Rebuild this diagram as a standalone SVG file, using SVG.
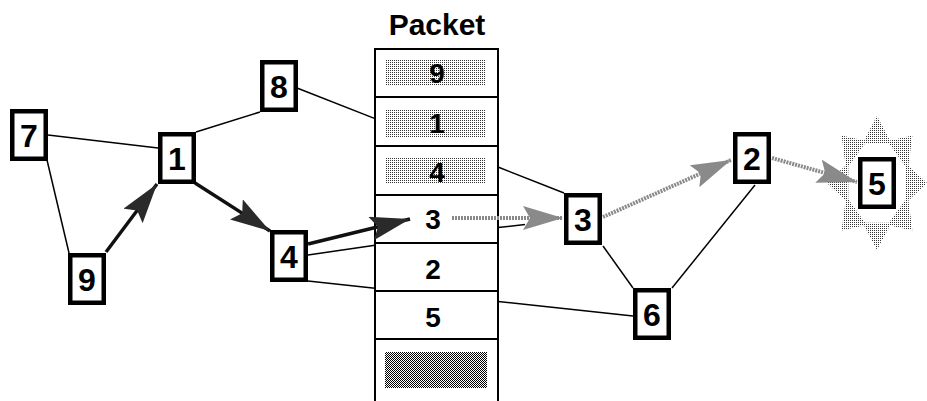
<svg xmlns="http://www.w3.org/2000/svg" width="927" height="401" viewBox="0 0 927 401">
<style>
.node rect{fill:#fff;stroke:#000;stroke-width:4.5}
.node text{font-family:"Liberation Sans",Arial,sans-serif;font-weight:bold;font-size:32px;text-anchor:middle;fill:#000}
.ptxt{font-family:"Liberation Sans",Arial,sans-serif;font-weight:bold;font-size:28px;text-anchor:middle;fill:#000}
.thin{stroke:#000;stroke-width:1.5;fill:none}
.dark{stroke:#111;stroke-width:3.5;fill:none;marker-end:url(#headDark)}
.gray{stroke:#8a8a8a;stroke-width:4;fill:none;stroke-dasharray:2 1;marker-end:url(#headGray)}
.cell{fill:#fff;stroke:#000;stroke-width:2}
</style>
<defs>
<pattern id="lightDots" width="2" height="2" patternUnits="userSpaceOnUse"><rect width="2" height="2" fill="#fff"/><rect width="1" height="1" fill="#333"/></pattern>
<pattern id="midDots" width="2" height="2" patternUnits="userSpaceOnUse"><rect width="2" height="2" fill="#fff"/><rect width="1" height="1" fill="#000"/><rect x="1" y="1" width="1" height="1" fill="#000"/></pattern>
<marker id="headDark" viewBox="0 0 40 24" refX="40" refY="12" markerWidth="40" markerHeight="24" markerUnits="userSpaceOnUse" orient="auto"><path d="M0,0 L40,12 L0,24 L7,12 Z" fill="#2a2a2a"/></marker>
<marker id="headGray" viewBox="0 0 40 24" refX="40" refY="12" markerWidth="40" markerHeight="24" markerUnits="userSpaceOnUse" orient="auto"><path d="M0,0 L40,12 L0,24 L7,12 Z" fill="#8a8a8a"/></marker>
</defs>
<rect width="927" height="401" fill="#fff"/>

<g id="packet">
<text x="437" y="35" class="ptxt" style="font-size:30px">Packet</text>
<rect class="cell" x="375" y="49" width="123" height="48"/>
<rect class="cell" x="375" y="97" width="123" height="49"/>
<rect class="cell" x="375" y="146" width="123" height="49"/>
<rect class="cell" x="375" y="195" width="123" height="48"/>
<rect class="cell" x="375" y="243" width="123" height="48"/>
<rect class="cell" x="375" y="291" width="123" height="48"/>
<rect class="cell" x="375" y="339" width="123" height="70"/>
<rect x="386" y="59" width="100" height="26" fill="url(#lightDots)"/>
<rect x="386" y="109" width="100" height="28" fill="url(#lightDots)"/>
<rect x="386" y="158" width="100" height="25" fill="url(#lightDots)"/>
<rect x="385" y="352" width="102" height="36" fill="url(#midDots)"/>
<text x="437" y="83" class="ptxt">9</text>
<text x="437" y="133" class="ptxt">1</text>
<text x="437" y="182" class="ptxt">4</text>
<text x="433" y="229" class="ptxt">3</text>
<text x="433" y="279" class="ptxt">2</text>
<text x="433" y="327" class="ptxt">5</text>
</g>

<g id="burst">
<polygon points="877,116 890,140.5 912.4,135.6 908.4,165.4 927,183 908.4,200.6 912.4,230.4 890,225.5 877,250 864,225.5 841.6,230.4 845.6,200.6 827,183 845.6,165.4 841.6,135.6 864,140.5" fill="url(#lightDots)"/>
<polygon points="888.9,143.3 905.6,166.5 905.6,199.5 888.9,222.7 865.1,222.7 848.4,199.5 848.4,166.5 865.1,143.3" fill="#fff"/>
</g>

<g id="connectors">
<line class="thin" x1="48" y1="135" x2="158" y2="148"/>
<line class="thin" x1="47" y1="160" x2="69" y2="253"/>
<line class="thin" x1="196" y1="132" x2="260" y2="112"/>
<line class="thin" x1="297" y1="88" x2="375" y2="118.6"/>
<line class="thin" x1="498" y1="167" x2="564" y2="193"/>
<line class="thin" x1="308" y1="255" x2="375" y2="245.3"/>
<line class="thin" x1="498" y1="227.5" x2="525" y2="224.5"/>
<line class="thin" x1="308" y1="281" x2="375" y2="288.2"/>
<line class="thin" x1="498" y1="301.5" x2="633" y2="316"/>
<line class="thin" x1="603" y1="246" x2="633" y2="288"/>
<line class="thin" x1="672" y1="288" x2="755" y2="185"/>
<line class="dark" x1="106" y1="252" x2="157" y2="184"/>
<line class="dark" x1="195" y1="183" x2="270" y2="231"/>
<line class="dark" x1="308" y1="244" x2="410" y2="219"/>
<line class="gray" x1="452" y1="218" x2="563" y2="218"/>
<line class="gray" x1="603" y1="217" x2="731" y2="160"/>
<line class="gray" x1="772" y1="158" x2="857" y2="182"/>
</g>

<g id="n7" class="node"><rect x="12.25" y="111.25" width="33.5" height="47.5"/><text x="29" y="147">7</text></g>
<g id="n1" class="node"><rect x="160.25" y="134.25" width="33.5" height="47.5"/><text x="177" y="170">1</text></g>
<g id="n8" class="node"><rect x="262.25" y="62.25" width="33.5" height="47.5"/><text x="279" y="98">8</text></g>
<g id="n9" class="node"><rect x="70.25" y="255.25" width="33.5" height="47.5"/><text x="87" y="291">9</text></g>
<g id="n4" class="node"><rect x="272.25" y="232.25" width="33.5" height="47.5"/><text x="289" y="268">4</text></g>
<g id="n3" class="node"><rect x="566.25" y="195.25" width="33.5" height="47.5"/><text x="583" y="231">3</text></g>
<g id="n2" class="node"><rect x="735.25" y="134.25" width="33.5" height="47.5"/><text x="752" y="170">2</text></g>
<g id="n6" class="node"><rect x="635.25" y="290.25" width="33.5" height="47.5"/><text x="652" y="326">6</text></g>
<g id="n5" class="node"><rect x="860.25" y="159.25" width="33.5" height="47.5"/><text x="877" y="195">5</text></g>
</svg>
